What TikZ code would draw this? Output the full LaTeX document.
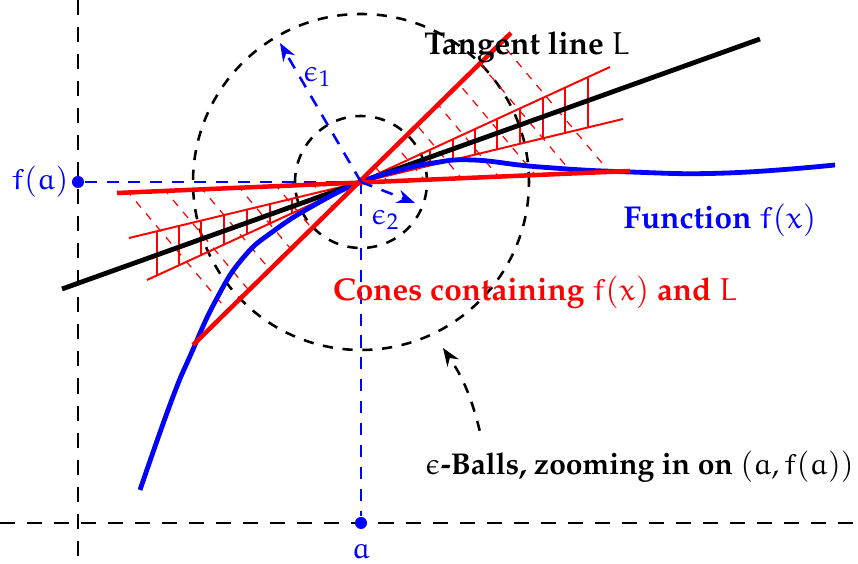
\documentclass[tikz,border=0pt]{standalone}
\usepackage[T1]{fontenc}
\usepackage{mathpazo}
\DeclareSymbolFont{letters}{U}{eur}{m}{n}
\usetikzlibrary{arrows.meta,positioning,calc}
\tikzset{
  axis/.style={black,line width=0.85pt,dash pattern=on 5pt off 4pt},
  ball/.style={black,line width=0.85pt,dash pattern=on 3.4pt off 3.2pt},
  bdash/.style={blue,line width=0.85pt,dash pattern=on 4pt off 3.3pt},
  earr/.style={bdash,-{Stealth[length=6pt,width=4.5pt]}},
  tline/.style={black,line width=1.6pt},
  fcurve/.style={blue,line width=1.6pt},
  cone/.style={red,line width=1.5pt},
  icone/.style={red,line width=0.65pt},
  hatch/.style={red,line width=0.35pt},
  dhatch/.style={red,line width=0.4pt,dash pattern=on 2.6pt off 2.6pt},
  dot/.style={circle,fill=blue,inner sep=0pt,minimum size=4pt},
  lbl/.style={font=\fontsize{10.5pt}{13pt}\selectfont\bfseries,align=center}
}
\begin{document}
\begin{tikzpicture}[x=1.17cm, y=1.17cm]
  \useasboundingbox (-3.61,-3.82) rectangle (4.97,1.82);
  % Axes
  \draw[axis] (-2.83,1.82) -- (-2.83,-3.82);
  \draw[axis] (-3.61,-3.41) -- (4.97,-3.41);

  % Point of tangency and its projections
  \coordinate (pt) at (0,0);
  \node[dot] (fa) at (-2.83,0) {};
  \node[dot] (a) at (0,-3.41) {};
  \node[text=blue] (falbl) at (-3.21,0) {$f(a)$};
  \node[text=blue] (albl) at (0,-3.70) {$a$};
  \draw[bdash] (fa) -- (pt);
  \draw[bdash] (pt) -- (a);

  % Epsilon balls
  \draw[ball] (pt) circle (1.68);
  \draw[ball] (pt) circle (0.66);

  % Outer cone hatching
  \begin{scope}
    \clip (pt) -- (-2.44,-0.11) -- (-1.68,-1.63) -- cycle
          (pt) -- (1.50,1.49) -- (2.69,0.11) -- cycle;
    \foreach \k in {0,...,14}
      \draw[dhatch] ({-2.33+0.37*\k-0.643*3},{0.043*(-2.33+0.37*\k)+0.766*3})
        -- ++({0.643*6},{-0.766*6});
  \end{scope}

  % Inner cone hatching
  \foreach \x in {-2.04,-1.82,-1.6,-1.37,-1.14,-0.91,-0.69,0.69,0.92,1.14,1.36,1.59,1.82,2.04,2.27}
    \draw[hatch] (\x,{0.24*\x}) -- (\x,{0.46*\x});

  % Inner cone
  \draw[icone] (-2.32,-0.56) -- (2.62,0.63);
  \draw[icone] (-2.14,-0.98) -- (2.49,1.15);

  % Tangent line L
  \draw[tline] (-2.99,-1.07) -- (3.99,1.43);

  % Function f(x)
  \draw[fcurve] plot[smooth, tension=0.8] coordinates {(-2.21,-3.08) (-1.90,-2.20) (-1.70,-1.72)
    (-1.45,-1.18) (-1.18,-0.76) (-0.86,-0.48) (-0.43,-0.21) (0,0) (0.39,0.12) (0.72,0.19)
    (1.12,0.22) (1.79,0.15) (2.69,0.10) (3.66,0.09) (4.74,0.17)};

  % Outer cone
  \draw[cone] (-1.68,-1.63) -- (1.50,1.49);
  \draw[cone] (-2.44,-0.11) -- (2.69,0.11);

  % Epsilon radii
  \coordinate (e1) at (-0.81,1.39);
  \coordinate (e2) at (0.54,-0.21);
  \draw[earr] (pt) -- (e1);
  \draw[earr] (pt) -- (e2);
  \node[text=blue] (e1lbl) at (-0.44,1.05) {$\epsilon_1$};
  \node[text=blue] (e2lbl) at (0.24,-0.38) {$\epsilon_2$};

  % Labels
  \node[lbl] (tanlbl) at (1.66,1.35) {Tangent line $L$};
  \node[lbl, text=blue] (funlbl) at (3.59,-0.38) {Function $f(x)$};
  \node[lbl, text=red] (conelbl) at (1.74,-1.10) {Cones containing $f(x)$ and $L$};
  \node[lbl, font=\bfseries] (balllbl) at (2.78,-2.85) {$\epsilon$-Balls, zooming in on $(a,f(a))$};
  \coordinate (balltip) at (0.82,-1.66);
  \draw[ball, -{Stealth[length=6pt,width=4.5pt]}] ($(balllbl.north west)+(0.66,0.1)$)
    to[bend right=10] (balltip);
\end{tikzpicture}
\end{document}
